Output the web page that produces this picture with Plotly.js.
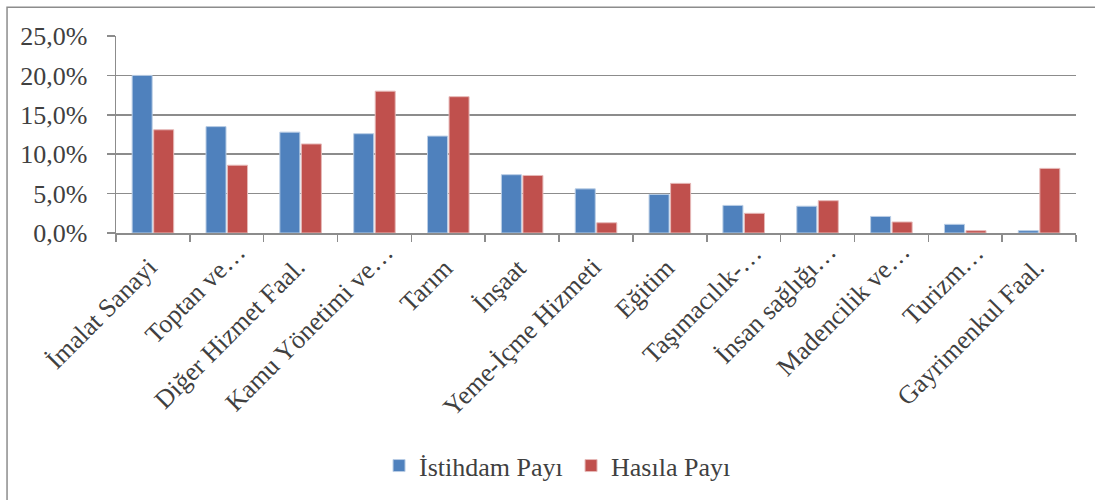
<!DOCTYPE html>
<html>
<head>
<meta charset="utf-8">
<script src="https://cdn.plot.ly/plotly-3.0.1.min.js"></script>
<style>html,body{margin:0;padding:0;background:#fff;}#chart{width:1095px;height:500px;}</style>
</head>
<body>
<div id="chart"></div>
<script>
const categories = ["İmalat Sanayi","Toptan ve…","Diğer Hizmet Faal.","Kamu Yönetimi ve…","Tarım","İnşaat","Yeme-İçme Hizmeti","Eğitim","Taşımacılık-…","İnsan sağlığı…","Madencilik ve…","Turizm…","Gayrimenkul Faal."];
const istihdamPayi = [20.0, 13.5, 12.8, 12.6, 12.3, 7.4, 5.6, 4.9, 3.5, 3.4, 2.1, 1.1, 0.3];
const hasilaPayi = [13.1, 8.6, 11.3, 18.0, 17.3, 7.3, 1.3, 6.3, 2.5, 4.1, 1.4, 0.3, 8.2];
const yTicks = [0, 5, 10, 15, 20, 25];
const yTickLabels = ["0,0%", "5,0%", "10,0%", "15,0%", "20,0%", "25,0%"];
const seriesNames = ["İstihdam Payı", "Hasıla Payı"];

const font = "'Liberation Serif', 'Times New Roman', serif";
const txt = "#404040";
const grey = "#8c8c8c";
const fs = 26;
const traces = [
  {type:"bar", name:seriesNames[0], x:categories, y:istihdamPayi,
   marker:{color:"#4F81BD", line:{color:"#b9cde5", width:1}}},
  {type:"bar", name:seriesNames[1], x:categories, y:hasilaPayi,
   marker:{color:"#C0504D", line:{color:"#e6b9b8", width:1}}}
];
// Category labels drawn as rotated annotations (truncated labels sit further along, as in the original)
const labelAnnotations = categories.map(c => {
  const truncated = c.endsWith("…");
  return {x:c, y:0, xref:"x", yref:"y", text:c, showarrow:false, textangle:-45,
          xanchor:"right", yanchor:"top", xshift: truncated ? 27 : 13, yshift: truncated ? -2 : -17,
          font:{family:font, size:fs, color:txt}};
});
const layout = {
  width:1095, height:500,
  margin:{l:116, r:19, t:36, b:266},
  paper_bgcolor:"#fff", plot_bgcolor:"#fff",
  font:{family:font, size:fs, color:txt},
  barmode:"group", bargap:0.417, bargroupgap:0.07,
  showlegend:true,
  legend:{orientation:"h", x:0.274, xanchor:"left", y:-1.17, yanchor:"middle",
          entrywidth:147, entrywidthmode:"pixels",
          font:{family:font, size:fs, color:txt}, tracegroupgap:0},
  xaxis:{type:"category", range:[-0.5, categories.length - 0.5], autorange:false,
         showline:true, linecolor:grey, linewidth:1.5,
         ticks:"outside", tickson:"boundaries", ticklen:7, tickcolor:grey, tickwidth:1.5,
         showticklabels:false, showgrid:false},
  yaxis:{range:[0,25], autorange:false, tickmode:"array", tickvals:yTicks, ticktext:yTickLabels,
         showgrid:true, gridcolor:grey, gridwidth:1.5,
         showline:true, linecolor:grey, linewidth:1.5,
         ticks:"outside", ticklen:8, tickcolor:grey, tickwidth:1.5, ticklabelstandoff:14,
         zeroline:false, tickfont:{family:font, size:fs, color:txt}},
  annotations: labelAnnotations,
  shapes:[{type:"rect", xref:"paper", yref:"paper", x0:-0.1135, x1:1.2, y0:-1.6, y1:1.146,
           line:{color:grey, width:1.5}, fillcolor:"rgba(0,0,0,0)", layer:"below"}]
};
Plotly.newPlot("chart", traces, layout, {displayModeBar:false, staticPlot:true});
</script>
</body>
</html>
